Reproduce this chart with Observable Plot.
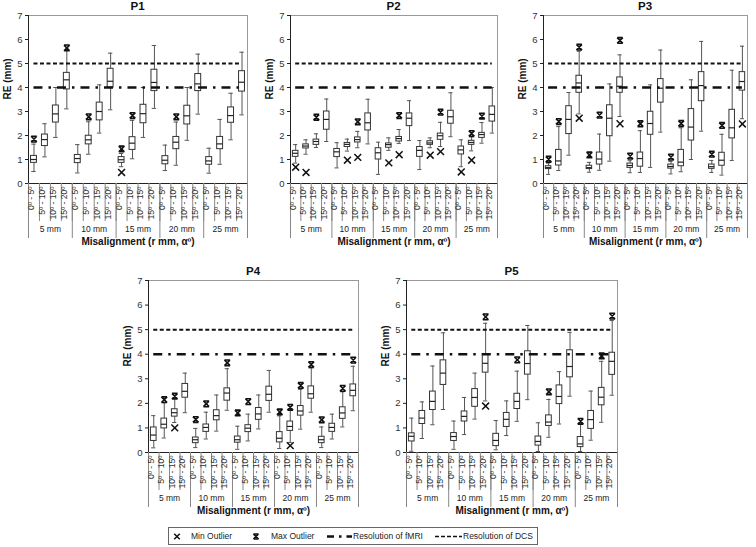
<!DOCTYPE html>
<html><head><meta charset="utf-8">
<script src="https://cdn.jsdelivr.net/npm/d3@7"></script>
<script src="https://cdn.jsdelivr.net/npm/@observablehq/plot@0.6"></script>
<style>
body{margin:0;background:#fff;font-family:"Liberation Sans",Arial,sans-serif;}
#root{position:relative;width:756px;height:547px;overflow:hidden;background:#fff;}
.panel{position:absolute;}
.ttl{position:absolute;font-weight:bold;font-size:11.5px;color:#111;transform:translateX(-50%);line-height:12px;}
#legend{position:absolute;left:168px;top:527px;width:370px;height:18px;border:1px solid #666;box-sizing:border-box;}
</style></head><body><div id="root"></div>
<script>
// ---- categories ----
const distances = ["5 mm", "10 mm", "15 mm", "20 mm", "25 mm"];
const angles = ["0º - 5º", "5º - 10º", "10º - 15º", "15º - 20º"];
const yTicks = [0, 1, 2, 3, 4, 5, 6, 7];
const fmriRes = 4;   // Resolution of fMRI (mm)
const dcsRes = 5;    // Resolution of DCS (mm)
const xLabel = "Misalignment (r mm, αº)";
const yLabel = "RE (mm)";
const legendLabels = ["Min Outlier", "Max Outlier", "Resolution of fMRI", "Resolution of DCS"];

// ---- values per box: [whisker low, Q1, median, Q3, whisker high, min outlier, max outlier] ----
const P1 = [
  [0.50,0.86,1.00,1.15,1.64,null,1.85],[1.11,1.56,1.83,2.04,2.49,null,null],[1.92,2.54,2.90,3.25,4.00,null,null],[3.11,3.92,4.32,4.61,5.55,null,5.65],
  [0.44,0.85,1.04,1.19,1.62,null,null],[1.22,1.63,1.82,1.99,2.57,null,2.78],[2.10,2.63,3.00,3.37,4.11,null,null],[3.07,4.00,4.26,4.78,5.43,null,null],
  [0.70,0.86,0.99,1.10,1.25,0.46,1.44],[1.03,1.40,1.68,1.93,2.63,null,2.83],[1.92,2.51,2.91,3.28,4.00,null,null],[3.13,3.85,4.21,4.74,5.75,null,null],
  [0.54,0.80,0.97,1.14,1.60,null,null],[0.76,1.43,1.72,1.94,2.56,null,2.78],[1.80,2.46,2.82,3.24,4.00,null,null],[2.89,3.85,4.15,4.56,5.39,null,null],
  [0.43,0.78,0.94,1.10,1.47,null,null],[0.80,1.43,1.65,1.94,2.67,null,null],[1.82,2.53,2.83,3.17,3.76,null,null],[2.86,3.83,4.22,4.68,5.47,null,null]
];
const P2 = [
  [0.85,1.11,1.26,1.36,1.62,0.68,null],[1.22,1.46,1.56,1.63,1.82,0.46,null],[1.50,1.61,1.75,1.83,2.07,null,2.76],[1.75,2.24,2.67,3.00,3.52,null,null],
  [0.65,1.10,1.32,1.44,1.70,null,null],[1.35,1.52,1.63,1.69,1.85,0.97,null],[1.49,1.71,1.83,1.92,2.17,1.09,2.57],[1.65,2.21,2.53,2.92,3.51,null,null],
  [0.38,1.00,1.28,1.47,1.72,null,null],[1.38,1.49,1.62,1.67,1.90,0.86,null],[1.67,1.75,1.87,1.94,2.25,1.20,2.83],[1.79,2.39,2.72,2.92,3.45,null,null],
  [0.58,1.11,1.38,1.52,1.79,null,null],[1.49,1.61,1.69,1.76,1.90,1.18,null],[1.54,1.82,1.99,2.08,2.55,1.33,2.97],[1.95,2.49,2.78,3.03,3.78,null,null],
  [0.70,1.21,1.40,1.54,1.82,0.48,null],[1.36,1.61,1.71,1.78,1.95,0.97,2.08],[1.68,1.90,2.04,2.11,2.54,null,2.81],[2.10,2.58,2.88,3.21,4.00,null,null]
];
const P3 = [
  [0.38,0.60,0.66,0.72,0.85,null,1.01],[0.54,0.75,0.94,1.40,2.37,null,2.58],[1.18,2.06,2.67,3.22,3.79,null,null],[2.90,3.78,4.19,4.49,5.51,2.72,5.68],
  [0.47,0.60,0.66,0.74,0.88,null,1.19],[0.55,0.79,1.02,1.29,2.06,null,2.85],[0.93,1.97,2.72,3.26,4.15,null,null],[2.79,3.78,4.05,4.42,5.36,2.49,5.96],
  [0.45,0.65,0.75,0.83,0.95,null,1.14],[0.46,0.70,1.04,1.29,2.20,null,2.49],[0.67,2.03,2.50,2.99,4.11,null,null],[2.14,3.37,3.97,4.35,5.56,null,null],
  [0.40,0.62,0.71,0.79,0.92,null,1.10],[0.49,0.72,0.89,1.40,2.32,null,2.50],[1.00,1.79,2.35,3.10,4.32,null,null],[2.18,3.43,4.08,4.64,5.92,null,null],
  [0.46,0.61,0.70,0.79,0.96,null,1.22],[0.35,0.74,0.97,1.28,2.05,null,2.42],[0.96,1.88,2.32,3.07,4.72,null,null],[2.70,3.87,4.25,4.64,5.72,2.48,null]
];
const P4 = [
  [0.19,0.47,0.71,1.02,1.50,null,null],[0.59,0.98,1.15,1.38,2.03,null,2.15],[1.22,1.46,1.62,1.76,2.20,1.00,2.29],[1.62,2.23,2.49,2.79,3.23,null,null],
  [0.20,0.38,0.52,0.61,0.98,null,1.34],[0.55,0.84,1.02,1.14,1.64,null,1.98],[0.87,1.31,1.50,1.72,2.34,null,null],[1.72,2.11,2.42,2.61,3.41,null,3.65],
  [0.13,0.40,0.52,0.65,1.07,null,1.61],[0.47,0.83,0.99,1.11,1.56,null,2.07],[0.96,1.33,1.57,1.81,2.34,null,null],[1.64,2.10,2.37,2.68,3.34,null,null],
  [0.16,0.41,0.58,0.83,1.49,null,1.65],[0.41,0.88,1.06,1.26,1.76,0.28,1.84],[0.95,1.50,1.69,1.89,2.57,null,2.73],[1.64,2.19,2.39,2.69,3.45,null,3.58],
  [0.20,0.38,0.52,0.64,1.04,null,1.33],[0.55,0.84,1.02,1.17,1.56,null,null],[1.04,1.37,1.61,1.84,2.47,null,2.61],[1.70,2.29,2.53,2.77,3.51,null,3.76]
];
const P5 = [
  [0.05,0.45,0.66,0.78,1.40,null,null],[0.57,1.16,1.40,1.69,2.06,null,null],[1.13,1.73,2.08,2.48,3.52,null,null],[1.75,2.75,3.23,3.75,4.87,null,null],
  [0.13,0.47,0.65,0.79,1.28,null,null],[0.73,1.26,1.47,1.67,2.24,null,null],[1.36,1.86,2.24,2.58,3.23,null,null],[2.10,3.25,3.63,4.00,5.26,1.89,5.52],
  [0.11,0.26,0.49,0.76,1.30,null,null],[0.69,1.04,1.35,1.61,2.10,null,null],[1.27,1.77,2.08,2.39,3.31,null,3.77],[2.15,3.17,3.62,4.12,5.17,null,null],
  [0.04,0.28,0.45,0.65,1.21,null,null],[0.62,1.08,1.24,1.51,2.16,null,2.47],[1.16,1.97,2.28,2.73,3.29,null,null],[2.29,3.06,3.50,4.16,4.89,null,null],
  [0.04,0.22,0.35,0.63,1.15,null,1.27],[0.50,0.96,1.34,1.69,2.50,null,null],[1.23,1.92,2.25,2.63,3.71,null,3.93],[2.33,3.16,3.71,4.06,5.37,null,5.55]
];

// max-outlier glyph: X closed with top & bottom bars
const maxSymbol = {draw(ctx, size) {
  const r = Math.sqrt(size) / 2;
  ctx.moveTo(-r, -r); ctx.lineTo(r, r);
  ctx.moveTo(r, -r); ctx.lineTo(-r, r);
  ctx.moveTo(-r, -r); ctx.lineTo(r, -r);
  ctx.moveTo(-r, r); ctx.lineTo(r, r);
}};

const FONT = '"Liberation Sans", Arial, sans-serif';
const root = document.getElementById("root");

function panel(name, rows, box) {
  const nG = distances.length, nA = angles.length, n = nG * nA;
  const data = rows.map((r, i) => ({
    pos: i + 0.5, angle: angles[i % nA], dist: distances[Math.floor(i / nA)],
    lo: r[0], q1: r[1], med: r[2], q3: r[3], hi: r[4], minO: r[5], maxO: r[6]
  }));
  const mL = 28, mR = 5, mT = 8, mB = 70;
  const bw = 0.27, cw = 0.2;
  const first = data[0].pos, last = data[data.length - 1].pos;
  const plot = Plot.plot({
    width: mL + box.w + mR, height: mT + box.h + mB,
    marginLeft: mL, marginRight: mR, marginTop: mT, marginBottom: mB,
    x: {type: "linear", domain: [0, n], axis: null, label: null},
    y: {domain: [0, 7], axis: null, label: null},
    style: {fontFamily: FONT, fontSize: "9px", color: "#333", background: "transparent", overflow: "visible"},
    marks: [
      Plot.frame({stroke: "#999"}),
      // boxes
      Plot.ruleX(data, {x: "pos", y1: "lo", y2: "hi", stroke: "#555", strokeWidth: 1}),
      Plot.ruleY(data, {y: "hi", x1: d => d.pos - cw, x2: d => d.pos + cw, stroke: "#555"}),
      Plot.ruleY(data, {y: "lo", x1: d => d.pos - cw, x2: d => d.pos + cw, stroke: "#555"}),
      Plot.rect(data, {x1: d => d.pos - bw, x2: d => d.pos + bw, y1: "q1", y2: "q3", fill: "white", stroke: "#333", strokeWidth: 1}),
      Plot.ruleY(data, {y: "med", x1: d => d.pos - bw, x2: d => d.pos + bw, stroke: "#222", strokeWidth: 1.2}),
      // reference lines
      Plot.ruleY([dcsRes], {x1: first, x2: last, stroke: "#111", strokeWidth: 2, strokeDasharray: "4,2.5"}),
      Plot.ruleY([fmriRes], {x1: first, x2: last, stroke: "#111", strokeWidth: 2.6, strokeDasharray: "9,6,2.5,6"}),
      // outliers
      Plot.dot(data.filter(d => d.minO != null), {x: "pos", y: "minO", symbol: "times", r: 3.2, stroke: "#111", strokeWidth: 1.5}),
      Plot.dot(data.filter(d => d.maxO != null), {x: "pos", y: "maxO", symbol: maxSymbol, r: 3.2, stroke: "#111", strokeWidth: 1.6}),
      // axes lines
      Plot.ruleX([0], {stroke: "#222"}),
      Plot.ruleY([0], {stroke: "#222"}),
      Plot.axisY({ticks: yTicks, tickSize: 3, tickPadding: 3, tickFormat: d => String(d), label: null, fontSize: 9.5, stroke: "#222"}),
      Plot.text([yLabel], {frameAnchor: "left", dx: -21, rotate: -90, fontWeight: "bold", fontSize: 10, fill: "#111"}),
      // category separators & labels
      Plot.axisX({ticks: d3.range(n + 1), tickSize: 38, tickFormat: () => "", label: null, stroke: "#888"}),
      Plot.axisX({ticks: d3.range(0, n + 1, nA), tickSize: 55, tickFormat: () => "", label: null, stroke: "#888"}),
      Plot.text(data, {x: "pos", text: "angle", frameAnchor: "bottom", rotate: -90, textAnchor: "end", dy: 3, fontSize: 8.6, fill: "#333"}),
      Plot.text(distances, {x: (d, i) => data[i * nA].pos - 0.5 + nA / 2, text: d => d, frameAnchor: "bottom", dy: 48, fontSize: 8.5, fill: "#222"}),
      Plot.text([xLabel], {frameAnchor: "bottom", dy: 61, fontWeight: "bold", fontSize: 10, fill: "#111"})
    ]
  });
  const div = document.createElement("div");
  div.className = "panel";
  div.style.left = (box.x - mL) + "px";
  div.style.top = (box.y - mT) + "px";
  div.appendChild(plot);
  root.appendChild(div);
  const t = document.createElement("div");
  t.className = "ttl";
  t.textContent = name;
  t.style.left = (box.x + box.w / 2) + "px";
  t.style.top = (box.y - 15) + "px";
  root.appendChild(t);
}

panel("P1", P1, {x: 28, y: 15, w: 219, h: 168});
panel("P2", P2, {x: 290, y: 15, w: 207, h: 168});
panel("P3", P3, {x: 543, y: 15, w: 204, h: 168});
panel("P4", P4, {x: 148, y: 280, w: 210, h: 172});
panel("P5", P5, {x: 406, y: 280, w: 211, h: 172});

// legend
const lg = document.createElement("div");
lg.id = "legend";
const svg = d3.create("svg").attr("width", 368).attr("height", 16)
  .style("font-family", FONT).style("font-size", "8.5px");
const cy = 8.5;
const g1 = svg.append("g").attr("transform", `translate(8,${cy})`).attr("stroke", "#111").attr("stroke-width", 1.5).attr("fill", "none");
g1.append("path").attr("d", d3.symbol(d3.symbolTimes, 22)());
const g2 = svg.append("g").attr("transform", `translate(87,${cy})`).attr("stroke", "#111").attr("stroke-width", 1.6).attr("fill", "none");
g2.append("path").attr("d", d3.symbol(maxSymbol, 26)());
svg.append("line").attr("x1", 158).attr("x2", 183).attr("y1", cy).attr("y2", cy).attr("stroke", "#111").attr("stroke-width", 2.6).attr("stroke-dasharray", "7,5,2.5,5");
svg.append("line").attr("x1", 266).attr("x2", 293).attr("y1", cy).attr("y2", cy).attr("stroke", "#111").attr("stroke-width", 1.6).attr("stroke-dasharray", "4,2");
const tx = [22, 102, 184, 294];
legendLabels.forEach((s, i) => svg.append("text").attr("x", tx[i]).attr("y", cy).attr("dy", "0.35em").attr("fill", "#222").text(s));
lg.appendChild(svg.node());
root.appendChild(lg);
</script></body></html>
